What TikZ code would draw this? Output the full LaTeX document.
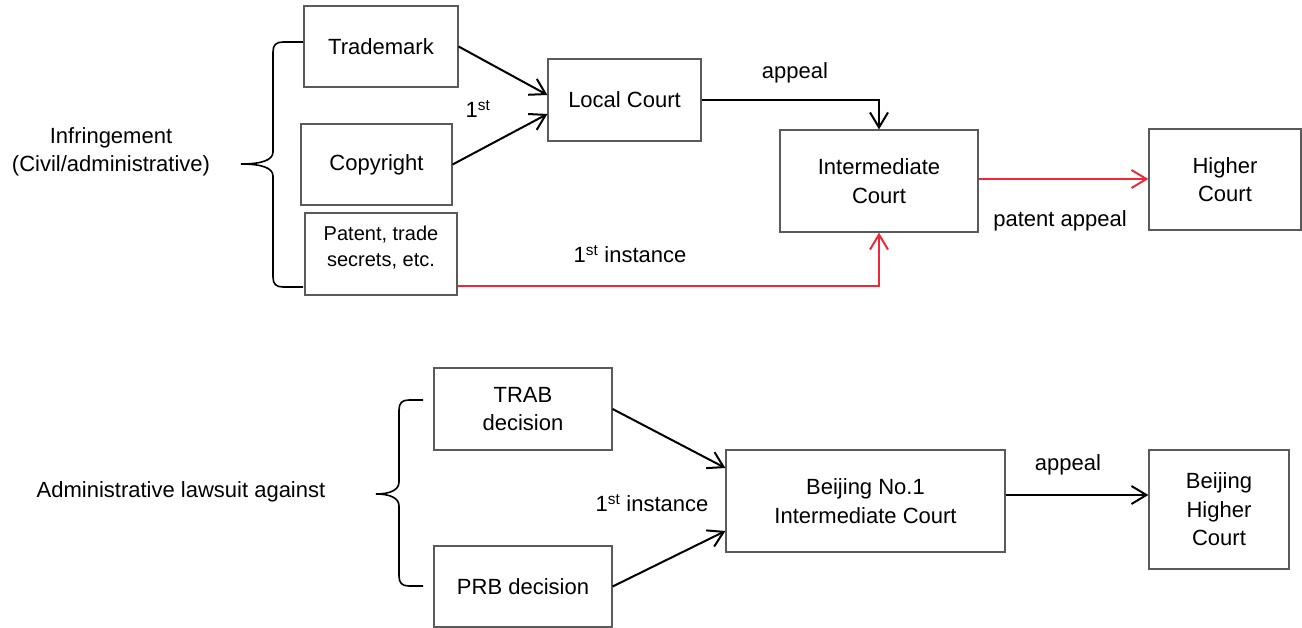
\documentclass[tikz,border=0pt]{standalone}
\usepackage{fontspec}
\setmainfont{Liberation Sans}
\usetikzlibrary{arrows.meta,calc}
\definecolor{redline}{RGB}{237,41,57}
\definecolor{boxline}{RGB}{90,90,90}
\begin{document}
\begin{tikzpicture}[x=1pt,y=-1pt,
  box/.style={draw=boxline,line width=1.2pt,inner sep=0pt,align=center,
    font=\fontsize{22}{28.5}\selectfont},
  txt/.style={inner sep=0pt,align=center,font=\fontsize{22}{28.5}\selectfont},
  conn/.style={line width=2pt,-{Straight Barb[length=15pt,width=18pt]}},
  redconn/.style={conn,draw=redline},
  bracepath/.style={line width=1.6pt}]
\useasboundingbox (0,0) rectangle (1302,628);
% ---------- top part ----------
\node[box,minimum width=154pt,minimum height=81pt] (tm) at (381,46.5) {Trademark};
\node[box,minimum width=151pt,minimum height=81pt] (cp) at (376.5,164.5) {Copyright};
\node[box,minimum width=152pt,minimum height=82pt] (pt) at (381,254) {};
\node[txt,font=\fontsize{20}{26}\selectfont] (pttext) at (381,248) {Patent, trade\\secrets, etc.};
\node[box,minimum width=153pt,minimum height=82pt] (lc) at (624.5,100) {Local Court};
\node[box,minimum width=198pt,minimum height=102pt] (ic) at (879,181) {Intermediate\\Court};
\node[box,minimum width=152pt,minimum height=101pt] (hc) at (1225,179.5) {Higher\\Court};
\node[txt] (infr) at (111,152) {Infringement\\(Civil/administrative)};
\node[txt] (first1) at (478,109) {1\textsuperscript{st}};
\node[txt] (appeal1) at (795,73) {appeal};
\node[txt] (inst1) at (630,254) {1\textsuperscript{st} instance};
\node[txt] (pappeal) at (1060,221) {patent appeal};
% brace top
\draw[bracepath] (303,42) -- (283,42) .. controls (276,42) and (273,45) .. (273,52)
  -- (273,152) .. controls (273,160) and (262,164) .. (241,164)
  .. controls (262,164) and (273,168) .. (273,176)
  -- (273,277) .. controls (273,284) and (276,287) .. (283,287) -- (303,287);
% connectors top
\draw[conn] (tm.east) -- ([yshift=5pt]lc.west);
\draw[conn] (cp.east) -- ([yshift=-14pt]lc.west);
\draw[conn] (lc.east) -| (ic.north);
\draw[redconn] ([yshift=-32pt]pt.east) -| (ic.south);
\draw[redconn] ([yshift=2pt]ic.east) -- ([yshift=2pt]ic.east -| hc.west);
% ---------- bottom part ----------
\node[box,minimum width=178pt,minimum height=82pt] (trab) at (523,409) {TRAB\\decision};
\node[box,minimum width=178pt,minimum height=81pt] (prb) at (523,586.5) {PRB decision};
\node[box,minimum width=279pt,minimum height=102pt] (b1) at (865.5,501) {Beijing No.1\\Intermediate Court};
\node[box,minimum width=140pt,minimum height=119pt] (bh) at (1219,509.5) {Beijing\\Higher\\Court};
\node[txt] (admin) at (181,492) {Administrative lawsuit against};
\node[txt] (inst2) at (652,503) {1\textsuperscript{st} instance};
\node[txt] (appeal2) at (1068,465) {appeal};
% brace bottom
\draw[bracepath] (423,400) -- (409,400) .. controls (402,400) and (399,403) .. (399,410)
  -- (399,482) .. controls (399,490) and (390,494) .. (376,494)
  .. controls (390,494) and (399,498) .. (399,506)
  -- (399,576) .. controls (399,583) and (402,586) .. (409,586) -- (423,586);
% connectors bottom
\draw[conn] (trab.east) -- ([yshift=33pt]b1.west);
\draw[conn] (prb.east) -- ([yshift=-30pt]b1.west);
\draw[conn] ([yshift=6pt]b1.east) -- ([yshift=6pt]b1.east -| bh.west);
\end{tikzpicture}
\end{document}
